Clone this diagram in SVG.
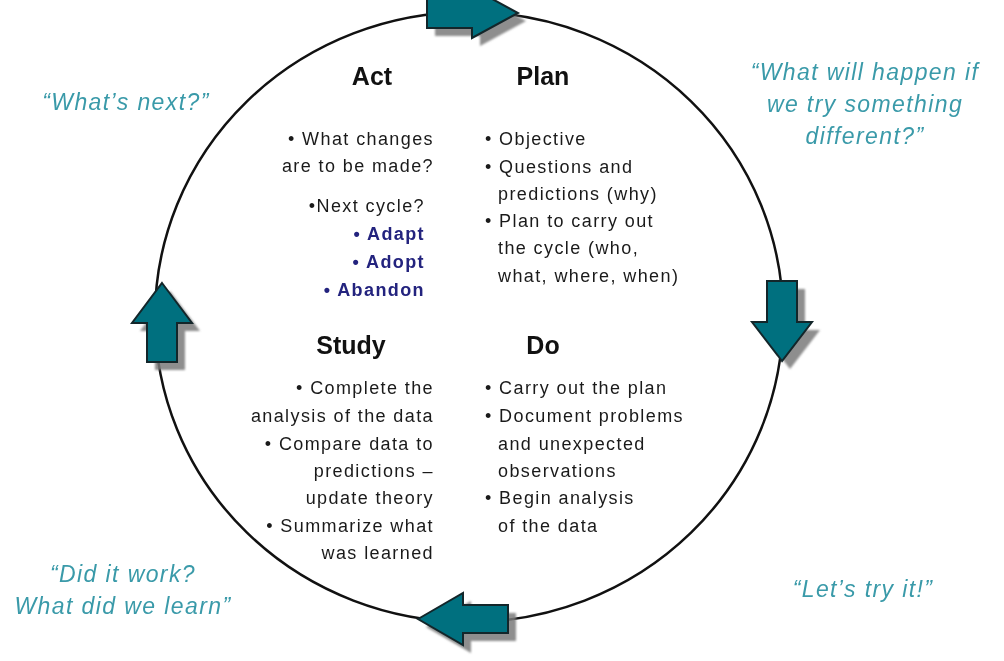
<svg xmlns="http://www.w3.org/2000/svg" width="1004" height="661" viewBox="0 0 1004 661">
  <style>
    .ring { fill: none; stroke: #111; stroke-width: 2.5; }
    .arrow { fill: #00707f; stroke: #13262a; stroke-width: 2; stroke-linejoin: miter; }
    .shadow { fill: #7a7a7a; opacity: 0.85; }
    .title { font-family: "Liberation Sans", Arial, sans-serif; font-weight: bold; font-size: 25px; fill: #111; text-anchor: middle; }
    .body { font-family: "Liberation Sans", Arial, sans-serif; font-size: 18px; letter-spacing: 1.4px; fill: #1a1a1a; }
    .end { text-anchor: end; }
    .opt { font-weight: bold; fill: #23237e; }
    .quote { font-family: "Liberation Sans", Arial, sans-serif; font-style: italic; font-size: 23px; letter-spacing: 1.4px; fill: #3a9aa9; text-anchor: middle; }
  </style>
  <defs>
    <filter id="soft" x="-20%" y="-20%" width="140%" height="140%">
      <feGaussianBlur stdDeviation="1.2"/>
    </filter>
  </defs>
  <rect width="1004" height="661" fill="#fff"/>

  <!-- cycle ring and the four block arrows sitting on it -->
  <g id="connectors">
    <ellipse class="ring" cx="469" cy="317" rx="314" ry="305"/>
    <g filter="url(#soft)">
      <polygon class="shadow" transform="translate(8,8)" points="427,-2 472,-2 472,-12 518,13 472,38 472,28 427,28"/>
      <polygon class="shadow" transform="translate(8,8)" points="782,361 752,322 767,322 767,281 797,281 797,322 812,322"/>
      <polygon class="shadow" transform="translate(8,8)" points="418,619 463,593 463,605 508,605 508,633 463,633 463,645"/>
      <polygon class="shadow" transform="translate(8,8)" points="162,283 192,323 177,323 177,362 147,362 147,323 132,323"/>
    </g>
    <polygon class="arrow" points="427,-2 472,-2 472,-12 518,13 472,38 472,28 427,28"/>
    <polygon class="arrow" points="782,361 752,322 767,322 767,281 797,281 797,322 812,322"/>
    <polygon class="arrow" points="418,619 463,593 463,605 508,605 508,633 463,633 463,645"/>
    <polygon class="arrow" points="162,283 192,323 177,323 177,362 147,362 147,323 132,323"/>
  </g>

  <!-- Act quadrant -->
  <g id="act">
    <text class="title" x="372" y="85">Act</text>
    <text class="body end" x="434" y="145">• What changes</text>
    <text class="body end" x="434" y="172">are to be made?</text>
    <text class="body end" x="425" y="212">•Next cycle?</text>
    <text class="body end opt" x="425" y="240">• Adapt</text>
    <text class="body end opt" x="425" y="268">• Adopt</text>
    <text class="body end opt" x="425" y="296">• Abandon</text>
  </g>

  <!-- Plan quadrant -->
  <g id="plan">
    <text class="title" x="543" y="85">Plan</text>
    <text class="body" x="485" y="145">• Objective</text>
    <text class="body" x="485" y="173">• Questions and</text>
    <text class="body" x="498" y="200">predictions  (why)</text>
    <text class="body" x="485" y="227">• Plan to carry out</text>
    <text class="body" x="498" y="254">the cycle (who,</text>
    <text class="body" x="498" y="282">what, where, when)</text>
  </g>

  <!-- Study quadrant -->
  <g id="study">
    <text class="title" x="351" y="354">Study</text>
    <text class="body end" x="434" y="394">• Complete the</text>
    <text class="body end" x="434" y="422">analysis of the data</text>
    <text class="body end" x="434" y="450">• Compare data to</text>
    <text class="body end" x="434" y="477">predictions –</text>
    <text class="body end" x="434" y="504">update theory</text>
    <text class="body end" x="434" y="532">• Summarize what</text>
    <text class="body end" x="434" y="559">was learned</text>
  </g>

  <!-- Do quadrant -->
  <g id="do">
    <text class="title" x="543" y="354">Do</text>
    <text class="body" x="485" y="394">• Carry out the plan</text>
    <text class="body" x="485" y="422">• Document problems</text>
    <text class="body" x="498" y="450">and unexpected</text>
    <text class="body" x="498" y="477">observations</text>
    <text class="body" x="485" y="504">• Begin analysis</text>
    <text class="body" x="498" y="532">of the data</text>
  </g>

  <!-- guiding questions around the ring -->
  <g id="q-act">
    <text class="quote" x="126" y="110">“What’s next?”</text>
  </g>
  <g id="q-plan">
    <text class="quote" x="865" y="80">“What will happen if</text>
    <text class="quote" x="865" y="112">we try something</text>
    <text class="quote" x="865" y="144">different?”</text>
  </g>
  <g id="q-study">
    <text class="quote" x="123" y="582">“Did it work?</text>
    <text class="quote" x="123" y="614">What did we learn”</text>
  </g>
  <g id="q-do">
    <text class="quote" x="863" y="597">“Let’s try it!”</text>
  </g>
</svg>
